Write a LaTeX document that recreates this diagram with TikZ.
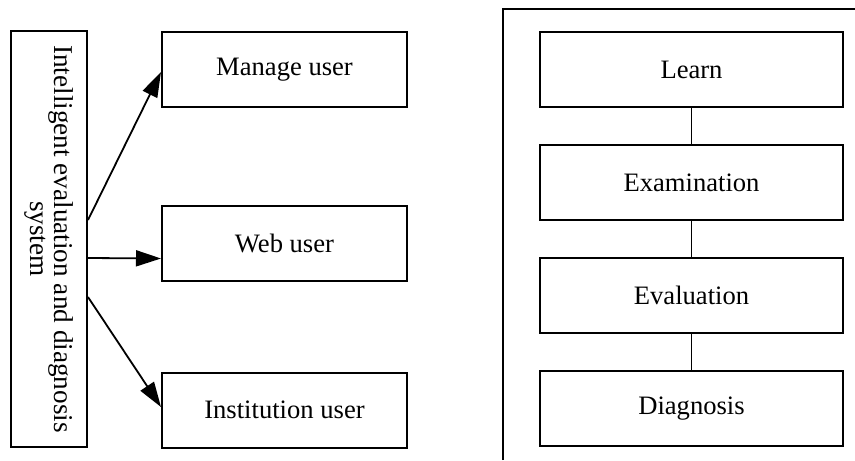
\documentclass[tikz,border=0pt]{standalone}
\usepackage{fontspec}
\setmainfont{Liberation Serif}
\usetikzlibrary{positioning,arrows.meta}

\tikzstyle{block} = [rectangle, draw, line width=1pt, fill=white, text centered, minimum height=37.5pt, inner sep=0pt, font=\fontsize{13.3}{15}\selectfont]
\tikzstyle{user} = [block, minimum width=122.5pt]
\tikzstyle{stage} = [block, minimum width=151.5pt]
\tikzstyle{arrow} = [draw, line width=0.9pt, -{Triangle[length=12.5pt,width=8pt]}]
\tikzstyle{line} = [draw, line width=0.9pt]

\begin{document}
\begin{tikzpicture}[x=0.5pt, y=-0.5pt, node distance=18pt, auto]
    \useasboundingbox (0,0) rectangle (855,460);

    % system box, text turned on its side
    \node[block, rotate=-90, minimum width=208pt, minimum height=38pt, align=center,
          font=\fontsize{13.6}{12.5}\selectfont] (sys) at (49,239)
        {Intelligent evaluation and diagnosis\\system};

    \node[user] (manage) at (284.5,69.5) {Manage user};
    \node[user] (web) at (284.5,243.5) {Web user};
    \node[user] (inst) at (284.5,410) {Institution user};

    % arrows
    \draw [arrow] ([yshift=9.5pt]sys.north) to ([yshift=-1.25pt]manage.west);
    \draw [arrow] ([yshift=-9.5pt]sys.north) to ([yshift=-7.5pt]web.west);
    \draw [arrow] ([yshift=-29pt]sys.north) to ([yshift=1.5pt]inst.west);

    % stages
    \node[stage] (learn) at (691.5,69.5) {Learn};
    \node[stage, below=of learn] (exam) {Examination};
    \node[stage, below=of exam] (eval) {Evaluation};
    \node[stage, below=of eval] (diag) {Diagnosis};

    % lines
    \draw [line] (learn.south) to (exam.north);
    \draw [line] (exam.south) to (eval.north);
    \draw [line] (eval.south) to (diag.north);

    % frame round the stages
    \coordinate (frameB) at (503,460);
    \coordinate (frameT) at (503,9);
    \coordinate (frameR) at (855,9);
    \draw [line] (frameB) -- (frameT) -- (frameR);
\end{tikzpicture}
\end{document}
